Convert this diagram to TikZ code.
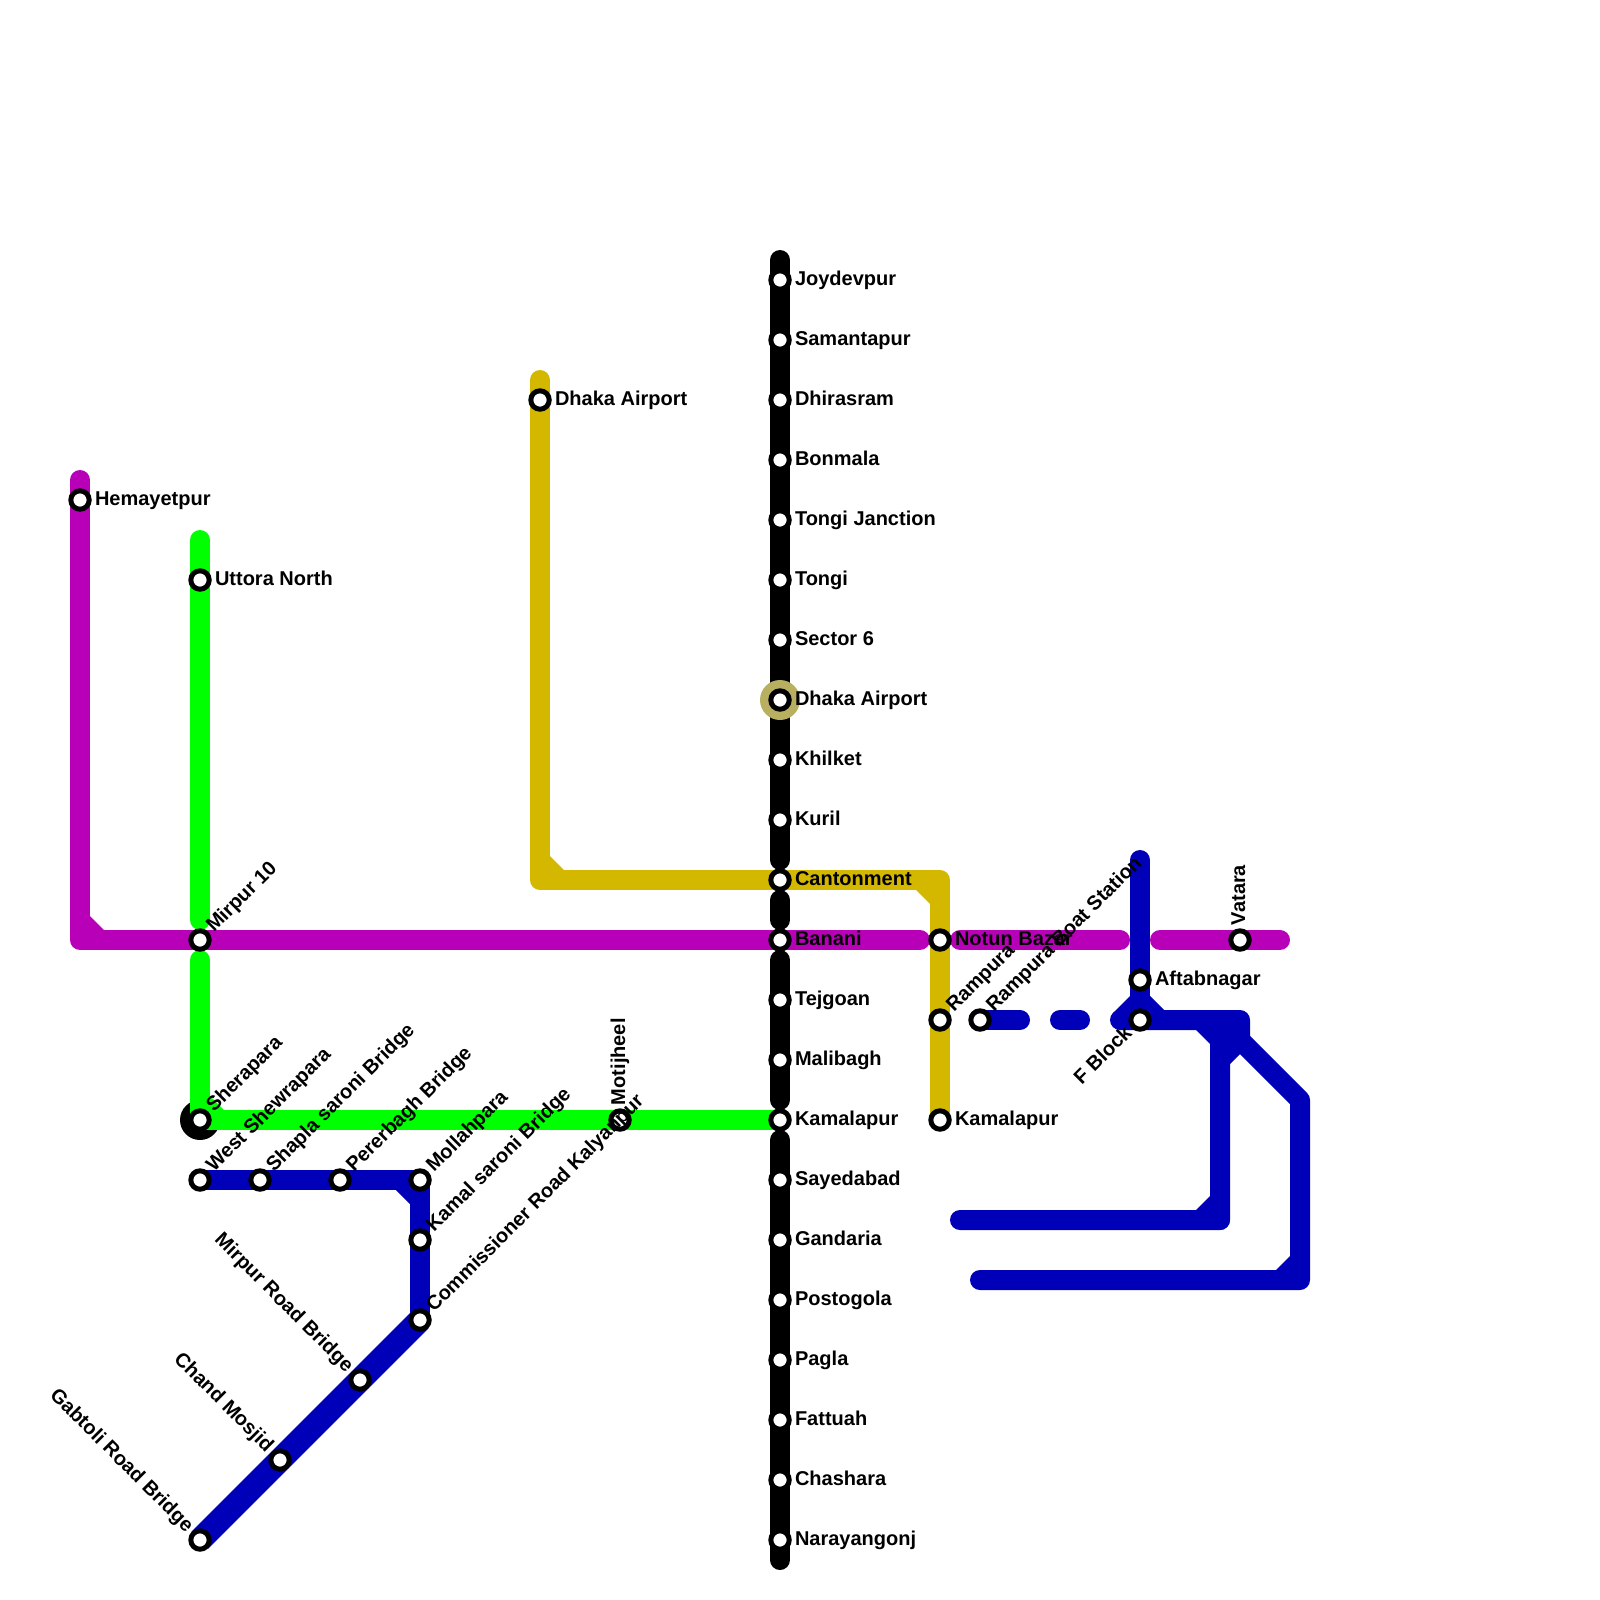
\documentclass[tikz,border=0pt]{standalone}
\usepackage{fontspec}
\setmainfont{Liberation Sans}
\usetikzlibrary{calc}
\pgfdeclarelayer{lines}
\pgfsetlayers{lines,main}
\definecolor{cblack}{HTML}{000000}
\definecolor{cpurple}{HTML}{B800B8}
\definecolor{cgreen}{HTML}{00FF00}
\definecolor{cmust}{HTML}{D4B800}
\definecolor{cblue}{HTML}{0000B8}
\definecolor{chalo}{HTML}{B8B060}
\tikzset{
  x=0.5pt,y=-0.5pt,
  route/.style={line width=10pt,line cap=round,line join=round},
  diagroute/.style={line width=12pt,line cap=butt},
  stn/.style={circle,draw=black,fill=white,line width=2.5pt,minimum size=9.2pt,inner sep=0pt,outer sep=0pt},
  lab/.style={font=\fontsize{10pt}{12pt}\selectfont\bfseries,inner sep=0pt,outer sep=0pt,text=black},
}
\newcommand{\stnE}[4]{% name, x,y, text
  \node[stn] (#1) at (#2,#3) {};
  \node[lab,anchor=base west] (#1l) at ($(#1.center)+(7.5pt,-2.5pt)$) {#4};}
\newcommand{\stnR}[5]{% name,x,y,angle,text
  \node[stn] (#1) at (#2,#3) {};
  \node[lab,rotate=#4,anchor=base west] (#1l) at ($(#1.center)+(#4:7.5pt)+(#4-90:2.5pt)$) {#5};}
\newcommand{\stnL}[5]{% name,x,y,angle,text (text ends at the station)
  \node[stn] (#1) at (#2,#3) {};
  \node[lab,rotate=#4,anchor=base east] (#1l) at ($(#1.center)+(#4:-7.5pt)+(#4-90:2.5pt)$) {#5};}
\begin{document}
\begin{tikzpicture}
\useasboundingbox (0,0) rectangle (1600,1600);
% halos
\node[circle,fill=chalo,minimum size=20pt,inner sep=0pt,outer sep=0pt] (halo) at (780,700) {};
% black line stations
\stnE{b1}{780}{280}{Joydevpur}
\stnE{b2}{780}{340}{Samantapur}
\stnE{b3}{780}{400}{Dhirasram}
\stnE{b4}{780}{460}{Bonmala}
\stnE{b5}{780}{520}{Tongi Janction}
\stnE{b6}{780}{580}{Tongi}
\stnE{b7}{780}{640}{Sector 6}
\stnE{b8}{780}{700}{Dhaka Airport}
\stnE{b9}{780}{760}{Khilket}
\stnE{b10}{780}{820}{Kuril}
\stnE{b11}{780}{880}{Cantonment}
\stnE{b12}{780}{940}{Banani}
\stnE{b13}{780}{1000}{Tejgoan}
\stnE{b14}{780}{1060}{Malibagh}
\stnE{b15}{780}{1120}{Kamalapur}
\stnE{b16}{780}{1180}{Sayedabad}
\stnE{b17}{780}{1240}{Gandaria}
\stnE{b18}{780}{1300}{Postogola}
\stnE{b19}{780}{1360}{Pagla}
\stnE{b20}{780}{1420}{Fattuah}
\stnE{b21}{780}{1480}{Chashara}
\stnE{b22}{780}{1540}{Narayangonj}
% purple
\stnE{p1}{80}{500}{Hemayetpur}
\stnR{p2}{200}{940}{45}{Mirpur 10}
\stnE{p3}{940}{940}{Notun Bazar}
\stnR{p4}{1240}{940}{90}{Vatara}
% green
\stnE{g1}{200}{580}{Uttora North}
\stnR{g2}{200}{1120}{45}{Sherapara}
\stnR{g3}{620}{1120}{90}{Motijheel}
% mustard
\stnE{m1}{540}{400}{Dhaka Airport}
\stnR{m2}{940}{1020}{45}{Rampura}
\stnE{m3}{940}{1120}{Kamalapur}
% blue west
\stnR{w1}{200}{1180}{45}{West Shewrapara}
\stnR{w2}{260}{1180}{45}{Shapla saroni Bridge}
\stnR{w3}{340}{1180}{45}{Pererbagh Bridge}
\stnR{w4}{420}{1180}{45}{Mollahpara}
\stnR{w5}{420}{1240}{45}{Kamal saroni Bridge}
\stnR{w6}{420}{1320}{45}{Commissioner Road Kalyanpur}
\stnL{w7}{360}{1380}{-45}{Mirpur Road Bridge}
\stnL{w8}{280}{1460}{-45}{Chand Mosjid}
\stnL{w9}{200}{1540}{-45}{Gabtoli Road Bridge}
% blue east
\stnR{e1}{980}{1020}{45}{Rampura Boat Station}
\stnE{e2}{1140}{980}{Aftabnagar}
\stnL{e3}{1140}{1020}{45}{F Block}
\begin{pgfonlayer}{lines}
\fill[white] (0,0) rectangle (1600,1600);
% black
\coordinate (bt) at (780,260);
\coordinate (ba) at (780,860);
\coordinate (bb) at (780,900);
\coordinate (bc) at (780,920);
\coordinate (bd) at (780,960);
\coordinate (be) at (780,1100);
\coordinate (bf) at (780,1140);
\coordinate (bz) at (780,1560);
\draw[route,cblack] (bt) -- (ba);
\draw[route,cblack] (bb) -- (bc);
\draw[route,cblack] (bd) -- (be);
\draw[route,cblack] (bf) -- (bz);
\node[circle,fill=black,minimum size=20pt,inner sep=0pt,outer sep=0pt] (blob) at (g2.center) {};
% mustard
\coordinate (mt) at (540,380);
\coordinate (mc1) at (540,880);
\coordinate (mc2) at (940,880);
\fill[cmust] (550,856) -- (564,870) -- (550,870) -- cycle;
\fill[cmust] (916,890) -- (930,904) -- (930,890) -- cycle;
\draw[route,cmust] (mt) -- (mc1) -- (mc2) -- (m3.center);
% green
\coordinate (gt) at (200,540);
\coordinate (ga) at (200,920);
\coordinate (gb) at (200,960);
\draw[route,cgreen] (gt) -- (ga);
\fill[cgreen] (210,1096) -- (224,1110) -- (210,1110) -- cycle;
\draw[route,cgreen] (gb) -- (g2.center) -- (b15.center);
% purple
\coordinate (pt) at (80,480);
\coordinate (pc) at (80,940);
\coordinate (pa) at (920,940);
\coordinate (pb) at (960,940);
\coordinate (pd) at (1120,940);
\coordinate (pe) at (1160,940);
\coordinate (pf) at (1280,940);
\fill[cpurple] (90,916) -- (104,930) -- (90,930) -- cycle;
\draw[route,cpurple] (pt) -- (pc) -- (pa);
\draw[route,cpurple] (pb) -- (pd);
\draw[route,cpurple] (pe) -- (pf);
% blue west
\fill[cblue] (396,1190) -- (410,1204) -- (410,1190) -- cycle;
\draw[route,cblue] (w1.center) -- (w4.center) -- (w6.center);
\draw[diagroute,cblue] (w6.center) -- (w9.center);
% blue east
\coordinate (d1) at (1020,1020);
\coordinate (d2) at (1060,1020);
\coordinate (d3) at (1080,1020);
\coordinate (d4) at (1120,1020);
\coordinate (v1) at (1140,860);
\coordinate (h1) at (1240,1020);
\coordinate (h2) at (1240,1040);
\coordinate (h3) at (1220,1060);
\coordinate (h4) at (1220,1220);
\coordinate (h5) at (960,1220);
\coordinate (k1) at (1220,1020);
\coordinate (k2) at (1300,1100);
\coordinate (k3) at (1300,1280);
\coordinate (k4) at (980,1280);
\draw[route,cblue] (e1.center) -- (d1);
\draw[route,cblue] (d2) -- (d3);
\draw[route,cblue] (v1) -- (e3.center);
\fill[cblue] (1130,996) -- (1113,1013) -- (1130,1020) -- cycle;
\fill[cblue] (1150,996) -- (1164,1010) -- (1150,1010) -- cycle;
\fill[cblue] (1196,1030) -- (1210,1044) -- (1210,1030) -- cycle;
\fill[cblue] (1196,1210) -- (1210,1196) -- (1210,1210) -- cycle;
\fill[cblue] (1276,1270) -- (1290,1256) -- (1290,1270) -- cycle;
\draw[route,cblue] (d4) -- (h1) -- (h2) -- (h3) -- (h4) -- (h5);
\draw[route,cblue] (k1) -- (h4);
\draw[route,cblue] (k1) -- (k2) -- (k3) -- (k4);
\end{pgfonlayer}
\end{tikzpicture}
\end{document}
